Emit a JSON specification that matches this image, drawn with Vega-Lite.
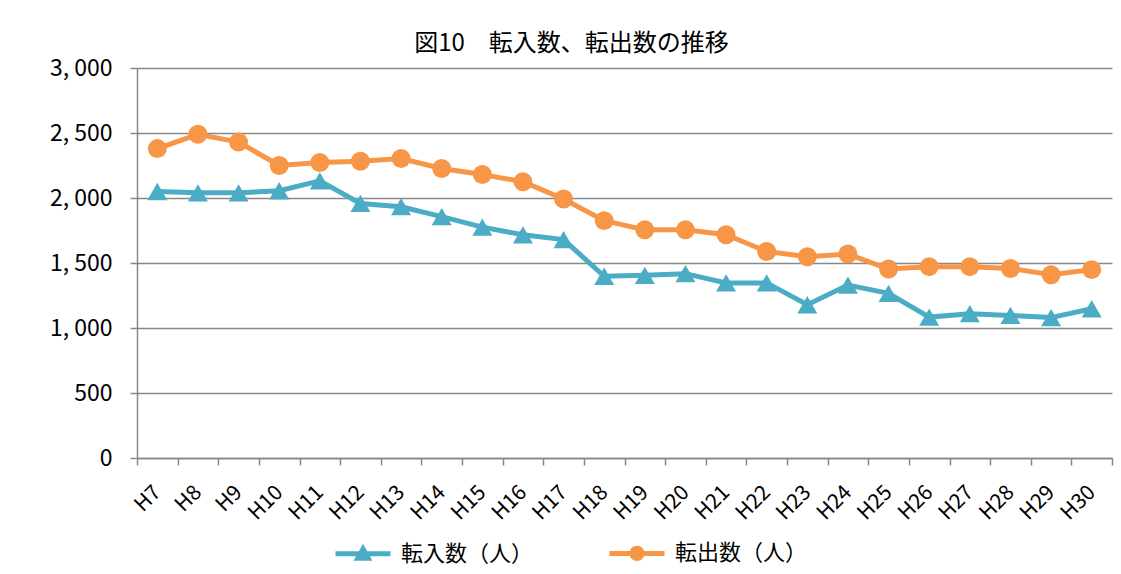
{
  "$schema": "https://vega.github.io/schema/vega-lite/v6.json",
  "width": 975,
  "height": 390,
  "autosize": {"type": "none"},
  "padding": {"left": 137, "top": 68, "right": 9, "bottom": 116},
  "background": "white",
  "config": {"view": {"stroke": null}, "font": "Noto Sans CJK JP"},
  "title": {"text": "図10　転入数、転出数の推移", "fontSize": 24, "font": "Noto Sans CJK JP", "fontWeight": "normal", "anchor": "middle", "dx": -53, "offset": 1, "color": "#000"},
  "data": {"values": [
    {"year": "H7", "series": "転入数（人）", "value": 2050},
    {"year": "H8", "series": "転入数（人）", "value": 2040},
    {"year": "H9", "series": "転入数（人）", "value": 2040},
    {"year": "H10", "series": "転入数（人）", "value": 2056},
    {"year": "H11", "series": "転入数（人）", "value": 2132},
    {"year": "H12", "series": "転入数（人）", "value": 1958},
    {"year": "H13", "series": "転入数（人）", "value": 1933},
    {"year": "H14", "series": "転入数（人）", "value": 1857},
    {"year": "H15", "series": "転入数（人）", "value": 1776},
    {"year": "H16", "series": "転入数（人）", "value": 1717},
    {"year": "H17", "series": "転入数（人）", "value": 1680},
    {"year": "H18", "series": "転入数（人）", "value": 1398},
    {"year": "H19", "series": "転入数（人）", "value": 1405},
    {"year": "H20", "series": "転入数（人）", "value": 1418},
    {"year": "H21", "series": "転入数（人）", "value": 1347},
    {"year": "H22", "series": "転入数（人）", "value": 1347},
    {"year": "H23", "series": "転入数（人）", "value": 1179},
    {"year": "H24", "series": "転入数（人）", "value": 1330},
    {"year": "H25", "series": "転入数（人）", "value": 1266},
    {"year": "H26", "series": "転入数（人）", "value": 1084},
    {"year": "H27", "series": "転入数（人）", "value": 1110},
    {"year": "H28", "series": "転入数（人）", "value": 1097},
    {"year": "H29", "series": "転入数（人）", "value": 1080},
    {"year": "H30", "series": "転入数（人）", "value": 1148},
    {"year": "H7", "series": "転出数（人）", "value": 2380},
    {"year": "H8", "series": "転出数（人）", "value": 2490},
    {"year": "H9", "series": "転出数（人）", "value": 2430},
    {"year": "H10", "series": "転出数（人）", "value": 2250},
    {"year": "H11", "series": "転出数（人）", "value": 2273},
    {"year": "H12", "series": "転出数（人）", "value": 2283},
    {"year": "H13", "series": "転出数（人）", "value": 2304},
    {"year": "H14", "series": "転出数（人）", "value": 2227},
    {"year": "H15", "series": "転出数（人）", "value": 2181},
    {"year": "H16", "series": "転出数（人）", "value": 2125},
    {"year": "H17", "series": "転出数（人）", "value": 1992},
    {"year": "H18", "series": "転出数（人）", "value": 1826},
    {"year": "H19", "series": "転出数（人）", "value": 1755},
    {"year": "H20", "series": "転出数（人）", "value": 1755},
    {"year": "H21", "series": "転出数（人）", "value": 1717},
    {"year": "H22", "series": "転出数（人）", "value": 1589},
    {"year": "H23", "series": "転出数（人）", "value": 1548},
    {"year": "H24", "series": "転出数（人）", "value": 1569},
    {"year": "H25", "series": "転出数（人）", "value": 1454},
    {"year": "H26", "series": "転出数（人）", "value": 1472},
    {"year": "H27", "series": "転出数（人）", "value": 1472},
    {"year": "H28", "series": "転出数（人）", "value": 1458},
    {"year": "H29", "series": "転出数（人）", "value": 1410},
    {"year": "H30", "series": "転出数（人）", "value": 1449}
  ]},
  "encoding": {
    "x": {
      "field": "year", "type": "ordinal",
      "sort": ["H7","H8","H9","H10","H11","H12","H13","H14","H15","H16","H17","H18","H19","H20","H21","H22","H23","H24","H25","H26","H27","H28","H29","H30"],
      "scale": {"type": "band", "paddingInner": 0, "paddingOuter": 0},
      "axis": {"title": null, "grid": false, "domainColor": "#888", "domainWidth": 1.5, "tickColor": "#888", "tickWidth": 1.5, "tickSize": 7, "tickBand": "extent", "labelAngle": -45, "labelAlign": "right", "labelBaseline": "middle", "labelFontSize": 21, "labelFont": "Noto Sans CJK JP", "labelColor": "#000", "labelPadding": 24}
    },
    "y": {
      "field": "value", "type": "quantitative",
      "scale": {"domain": [0, 3000]},
      "axis": {"title": null, "values": [0, 500, 1000, 1500, 2000, 2500, 3000], "grid": true, "gridColor": "#888", "gridWidth": 1.5, "domainColor": "#888", "domainWidth": 1.5, "tickColor": "#888", "tickWidth": 1.5, "tickSize": 7, "labelFontSize": 23, "labelFont": "Noto Sans CJK JP", "labelColor": "#000", "labelPadding": 18, "labelExpr": "replace(datum.label, ',', ', ')"}
    },
    "color": {
      "field": "series", "type": "nominal",
      "scale": {"domain": ["転入数（人）", "転出数（人）"], "range": ["#4BACC6", "#F79646"]},
      "legend": {
        "title": null, "orient": "none", "legendX": 196, "legendY": 455, "direction": "horizontal",
        "labelFontSize": 22, "labelFont": "Noto Sans CJK JP", "labelColor": "#000", "labelOffset": 8,
        "symbolSize": 3025, "symbolStrokeWidth": 5, "columnPadding": 65,
        "encode": {"symbols": {"update": {
          "shape": {"signal": "datum.value === '転入数（人）' ? 'M-1,0H1M-0.19,0.17L0,-0.17L0.19,0.17Z' : 'M-1,0H1M0.19,0A0.19,0.19,0,1,1,-0.19,0A0.19,0.19,0,1,1,0.19,0Z'"},
          "fill": {"scale": "color", "field": "value"},
          "stroke": {"scale": "color", "field": "value"},
          "strokeWidth": {"value": 5},
          "opacity": {"value": 1},
          "fillOpacity": {"value": 1}
        }}}
      }
    }
  },
  "layer": [
    {"mark": {"type": "line", "strokeWidth": 5}},
    {"transform": [{"filter": "datum.series === '転入数（人）'"}],
     "mark": {"type": "point", "filled": true, "opacity": 1, "size": 400, "shape": "triangle-up"}},
    {"transform": [{"filter": "datum.series === '転出数（人）'"}],
     "mark": {"type": "point", "filled": true, "opacity": 1, "size": 360, "shape": "circle"}}
  ]
}
